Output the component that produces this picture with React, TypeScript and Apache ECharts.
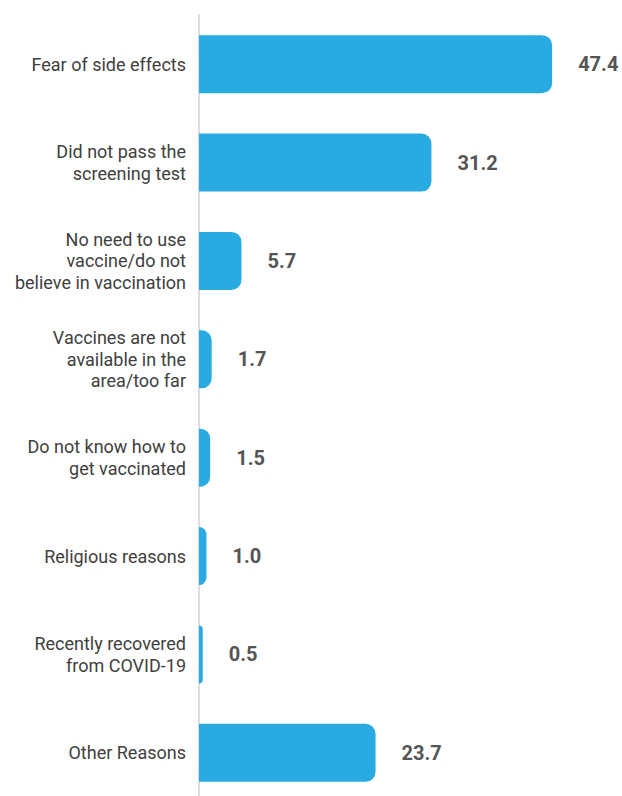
import React, { useEffect, useRef } from "react";
import * as echarts from "echarts";

const categories = [
  "Fear of side effects",
  "Did not pass the\nscreening test",
  "No need to use\nvaccine/do not\nbelieve in vaccination",
  "Vaccines are not\navailable in the\narea/too far",
  "Do not know how to\nget vaccinated",
  "Religious reasons",
  "Recently recovered\nfrom COVID-19",
  "Other Reasons",
];
const values = [47.4, 31.2, 5.7, 1.7, 1.5, 1.0, 0.5, 23.7];

export default function App() {
  const ref = useRef<HTMLDivElement>(null);
  useEffect(() => {
    if (!ref.current) return;
    const chart = echarts.init(ref.current, null, { renderer: "svg" });
    chart.setOption({
      animation: false,
      grid: { left: 199, right: 50.5, top: 15, height: 787 },
      xAxis: { type: "value", min: 0, max: 50, show: false },
      yAxis: {
        type: "category",
        data: categories,
        inverse: true,
        axisLine: { show: true, lineStyle: { color: "#dddddd", width: 2 } },
        axisTick: { show: false },
        axisLabel: {
          fontFamily: "Roboto",
          fontSize: 18,
          fontWeight: "normal",
          color: "#404040",
          margin: 13,
          lineHeight: 21.5,
          align: "right",
        },
      },
      series: [
        {
          type: "bar",
          data: values,
          barWidth: 58,
          itemStyle: { color: "#29ABE2", borderRadius: [0, 10, 10, 0] },
          label: {
            show: true,
            position: "right",
            distance: 26,
            fontFamily: "Roboto",
            fontWeight: "bold",
            fontSize: 20,
            color: "#555555",
            formatter: (p: any) => p.value.toFixed(1),
          },
        },
      ],
    });
    return () => chart.dispose();
  }, []);
  return (
    <div
      ref={ref}
      style={{ position: "absolute", left: 0, top: 0, width: 622, height: 810 }}
    />
  );
}
